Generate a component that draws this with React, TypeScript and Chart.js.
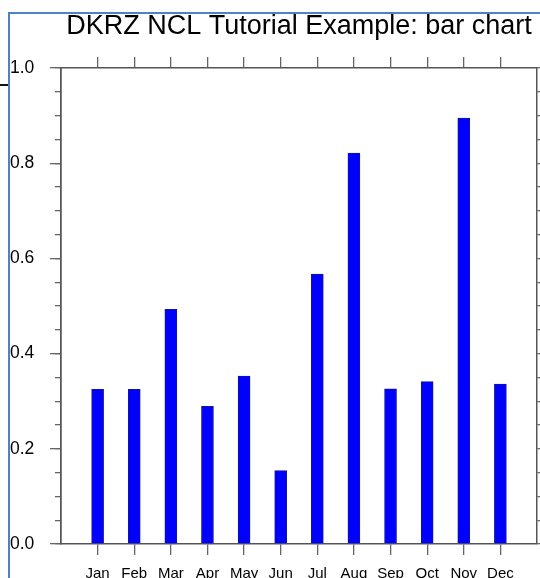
import React, { useEffect, useRef } from 'react';
import { Chart, registerables } from 'chart.js';

Chart.register(...registerables);

const TITLE = 'DKRZ NCL Tutorial Example: bar chart';
const MONTHS = ['Jan', 'Feb', 'Mar', 'Apr', 'May', 'Jun', 'Jul', 'Aug', 'Sep', 'Oct', 'Nov', 'Dec'];
const MONTH_POS = [1, 2, 3, 4, 5, 6, 7, 8, 9, 10, 11, 12];
const VALUES = [0.325, 0.325, 0.493, 0.289, 0.353, 0.154, 0.567, 0.821, 0.326, 0.341, 0.895, 0.336];
const Y_TICKS = [0, 0.2, 0.4, 0.6, 0.8, 1.0];
const Y_TICK_LABELS = ['0.0', '0.2', '0.4', '0.6', '0.8', '1.0'];
const Y_MINOR_TICKS = [0, 0.05, 0.1, 0.15, 0.2, 0.25, 0.3, 0.35, 0.4, 0.45, 0.5, 0.55, 0.6, 0.65, 0.7, 0.75, 0.8, 0.85, 0.9, 0.95, 1.0];
const X_RANGE = [0, 13];
const Y_RANGE = [0, 1];

const FONT = 'Liberation Sans, Arial, Helvetica, sans-serif';
const AXIS_COLOR = '#555555';
const TICK_COLOR = '#666666';

export default function App() {
  const canvasRef = useRef<HTMLCanvasElement | null>(null);

  useEffect(() => {
    const canvas = canvasRef.current;
    if (!canvas) return;

    const gridOpts = (len: number) => ({
      drawOnChartArea: false,
      drawTicks: true,
      offset: false,
      tickLength: len,
      color: TICK_COLOR,
      tickColor: TICK_COLOR,
      lineWidth: 1.3,
      tickWidth: 1.3,
    });
    const borderOpts = { display: true, color: AXIS_COLOR, width: 1.5 };

    const chart = new Chart(canvas, {
      type: 'bar',
      data: {
        datasets: [
          {
            data: MONTH_POS.map((x, i) => ({ x, y: VALUES[i] })),
            backgroundColor: '#0000ff',
            borderColor: '#14149a',
            borderWidth: 1,
            barThickness: 12,
            xAxisID: 'x',
            yAxisID: 'y',
          },
        ],
      },
      options: {
        animation: false,
        responsive: false,
        maintainAspectRatio: false,
        devicePixelRatio: 1,
        layout: { padding: { left: 10, right: 0, top: 0, bottom: 0 } },
        font: { family: FONT },
        plugins: {
          legend: { display: false },
          tooltip: { enabled: false },
          title: {
            display: true,
            text: TITLE,
            fullSize: false,
            color: '#000000',
            font: { family: FONT, size: 27, weight: 'normal', lineHeight: 1.2 },
            padding: { top: 10, bottom: 14.6 },
          },
        },
        scales: {
          x: {
            type: 'linear',
            position: 'bottom',
            offset: false,
            min: X_RANGE[0],
            max: X_RANGE[1],
            afterBuildTicks: (s: any) => {
              s.ticks = MONTH_POS.map((v) => ({ value: v }));
            },
            afterFit: (s: any) => {
              s.height = 34;
            },
            grid: gridOpts(11),
            border: borderOpts,
            ticks: {
              autoSkip: false,
              maxRotation: 0,
              minRotation: 0,
              padding: 10,
              color: '#000000',
              font: { family: FONT, size: 15 },
              callback: (v: any) => MONTHS[MONTH_POS.indexOf(v)] ?? '',
            },
          },
          x2: {
            type: 'linear',
            position: 'top',
            offset: false,
            min: X_RANGE[0],
            max: X_RANGE[1],
            afterBuildTicks: (s: any) => {
              s.ticks = MONTH_POS.map((v) => ({ value: v }));
            },
            afterFit: (s: any) => {
              s.height = 11;
            },
            grid: gridOpts(11),
            border: borderOpts,
            ticks: { display: false },
          },
          y: {
            type: 'linear',
            position: 'left',
            weight: 1,
            min: Y_RANGE[0],
            max: Y_RANGE[1],
            afterBuildTicks: (s: any) => {
              s.ticks = Y_TICKS.map((v) => ({ value: v }));
            },
            afterFit: (s: any) => {
              s.width = 51;
            },
            grid: gridOpts(11),
            border: borderOpts,
            ticks: {
              crossAlign: 'far',
              color: '#000000',
              padding: 4,
              font: { family: FONT, size: 17.5 },
              callback: (v: any) => Y_TICK_LABELS[Y_TICKS.indexOf(v)] ?? '',
            },
          },
          yMinor: {
            type: 'linear',
            position: 'left',
            weight: 0,
            min: Y_RANGE[0],
            max: Y_RANGE[1],
            afterBuildTicks: (s: any) => {
              s.ticks = Y_MINOR_TICKS.map((v) => ({ value: v }));
            },
            afterFit: (s: any) => {
              s.width = 0;
            },
            grid: gridOpts(6),
            border: borderOpts,
            ticks: { display: false },
          },
          y2: {
            type: 'linear',
            position: 'right',
            min: Y_RANGE[0],
            max: Y_RANGE[1],
            afterBuildTicks: (s: any) => {
              s.ticks = Y_MINOR_TICKS.map((v) => ({ value: v }));
            },
            afterFit: (s: any) => {
              s.width = 3;
            },
            grid: gridOpts(11),
            border: borderOpts,
            ticks: { display: false },
          },
        },
      } as any,
    });

    return () => {
      chart.destroy();
    };
  }, []);

  return (
    <div style={{ position: 'absolute', left: 0, top: 0, width: 540, height: 578, overflow: 'hidden', background: '#ffffff' }}>
      <canvas ref={canvasRef} width={540} height={578} style={{ display: 'block', width: 540, height: 578 }} />
      <div
        style={{
          position: 'absolute',
          left: 8,
          top: 12,
          width: 540,
          height: 580,
          borderLeft: '2px solid #4f81c7',
          borderTop: '2px solid #4f81c7',
          pointerEvents: 'none',
        }}
      />
      <div style={{ position: 'absolute', left: 0, top: 84, width: 8, height: 1.5, background: '#111111' }} />
    </div>
  );
}
